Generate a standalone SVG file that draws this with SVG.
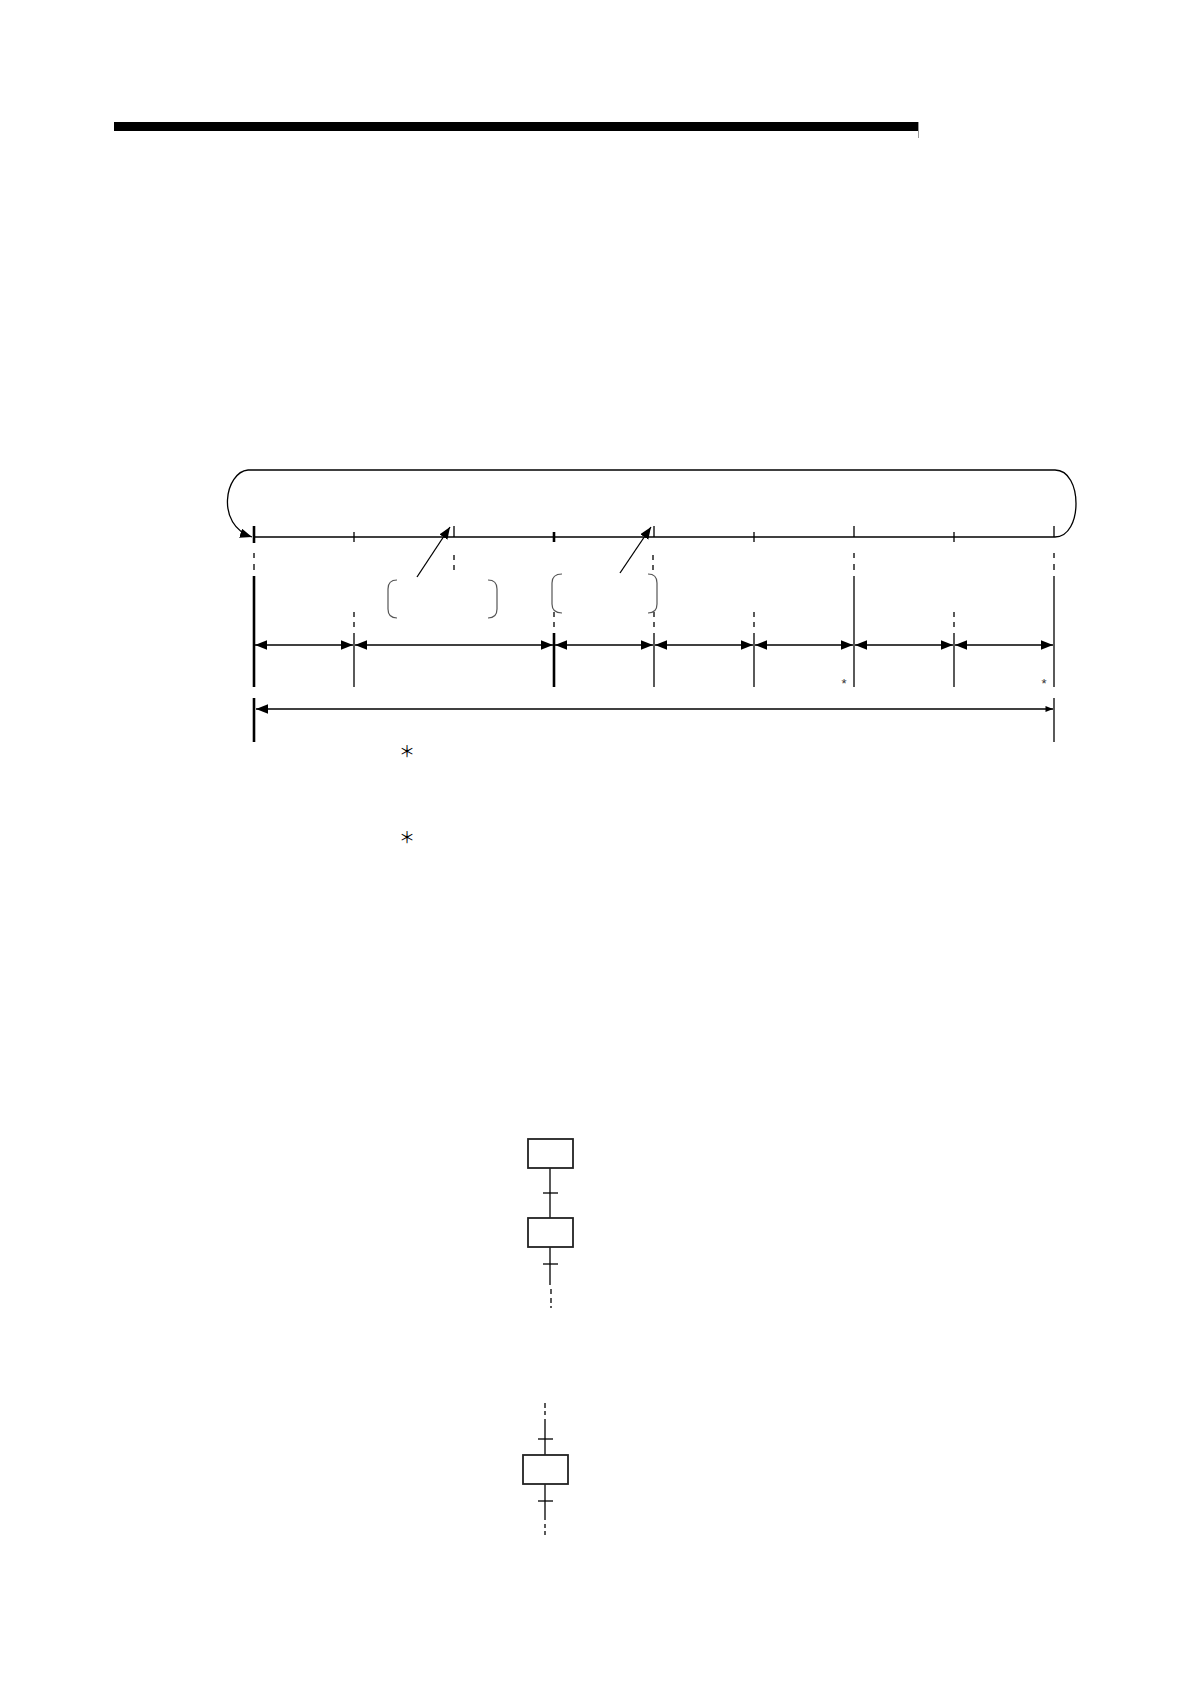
<svg xmlns="http://www.w3.org/2000/svg" width="1190" height="1684" viewBox="0 0 1190 1684">
<style>
.ln{stroke:#000;stroke-width:1.3;fill:none}
.th{stroke:#000;stroke-width:2.6;fill:none}
.br{stroke:#555;stroke-width:1.2;fill:none}
.bx{stroke:#222;stroke-width:1.8;fill:#fff}
.ast{font-family:"Noto Sans CJK JP","DejaVu Sans",sans-serif;fill:#000;text-anchor:middle}
.asts{font-family:"Liberation Sans",sans-serif;fill:#333;text-anchor:middle}
</style>
<defs>
<marker id="ah" viewBox="0 0 10 8" refX="10" refY="4" markerWidth="12" markerHeight="10" markerUnits="userSpaceOnUse" orient="auto-start-reverse">
<path d="M0,0 L10,4 L0,8 z" fill="#000"/>
</marker>
<marker id="ahs" viewBox="0 0 10 8" refX="10" refY="4" markerWidth="9" markerHeight="6" markerUnits="userSpaceOnUse" orient="auto-start-reverse">
<path d="M0,0 L10,4 L0,8 z" fill="#000"/>
</marker>
</defs>
<rect id="header-bar" x="114" y="122" width="804" height="9" fill="#000"/>
<line x1="918.5" y1="122" x2="918.5" y2="138" stroke="#999" stroke-width="1"/>

<g id="cycle">
<path class="ln" d="M248,470 L1055,470"/>
<path class="ln" d="M1055,470 C1083,470 1083,537 1055,537"/>
<path class="ln" d="M248,470 C225,472 215,525 252,537" marker-end="url(#ah)"/>
<line class="ln" x1="254" y1="537" x2="1055" y2="537"/>
</g>

<g id="ticks">
<line class="th" x1="254" y1="526" x2="254" y2="543"/>
<line class="ln" x1="354" y1="532" x2="354" y2="542"/>
<line class="ln" x1="454" y1="526" x2="454" y2="537"/>
<line class="th" x1="554" y1="532" x2="554" y2="542"/>
<line class="ln" x1="654" y1="526" x2="654" y2="537"/>
<line class="ln" x1="754" y1="532" x2="754" y2="542"/>
<line class="ln" x1="854" y1="526" x2="854" y2="537"/>
<line class="ln" x1="954" y1="532" x2="954" y2="542"/>
<line class="ln" x1="1054" y1="526" x2="1054" y2="537"/>
</g>

<g id="guides">
<line class="ln" x1="254" y1="553" x2="254" y2="558"/>
<line class="ln" x1="254" y1="564" x2="254" y2="570"/>
<line class="th" x1="254" y1="576" x2="254" y2="687"/>
<line class="th" x1="254" y1="698" x2="254" y2="742"/>
<line class="ln" x1="354" y1="612" x2="354" y2="617"/>
<line class="ln" x1="354" y1="622" x2="354" y2="627"/>
<line class="ln" x1="354" y1="633" x2="354" y2="687"/>
<line class="ln" x1="454" y1="555" x2="454" y2="560"/>
<line class="ln" x1="454" y1="565" x2="454" y2="570"/>
<line class="ln" x1="554" y1="612" x2="554" y2="617"/>
<line class="ln" x1="554" y1="622" x2="554" y2="627"/>
<line class="th" x1="554" y1="633" x2="554" y2="687"/>
<line class="ln" x1="653" y1="555" x2="653" y2="560"/>
<line class="ln" x1="653" y1="565" x2="653" y2="570"/>
<line class="ln" x1="654" y1="612" x2="654" y2="617"/>
<line class="ln" x1="654" y1="622" x2="654" y2="627"/>
<line class="ln" x1="654" y1="633" x2="654" y2="687"/>
<line class="ln" x1="754" y1="612" x2="754" y2="617"/>
<line class="ln" x1="754" y1="622" x2="754" y2="627"/>
<line class="ln" x1="754" y1="633" x2="754" y2="687"/>
<line class="ln" x1="854" y1="553" x2="854" y2="558"/>
<line class="ln" x1="854" y1="564" x2="854" y2="570"/>
<line class="ln" x1="854" y1="576" x2="854" y2="687"/>
<line class="ln" x1="954" y1="612" x2="954" y2="617"/>
<line class="ln" x1="954" y1="622" x2="954" y2="627"/>
<line class="ln" x1="954" y1="633" x2="954" y2="687"/>
<line class="ln" x1="1054" y1="553" x2="1054" y2="558"/>
<line class="ln" x1="1054" y1="564" x2="1054" y2="570"/>
<line class="ln" x1="1054" y1="576" x2="1054" y2="687"/>
<line class="ln" x1="1054" y1="698" x2="1054" y2="742"/>
</g>

<g id="brackets">
<path class="br" d="M397,580 Q388,580 388,589 L388,609 Q388,618 397,618"/>
<path class="br" d="M488,580 Q497,580 497,589 L497,609 Q497,618 488,618"/>
<path class="br" d="M562,574 Q552,574 552,583 L552,604 Q552,613 562,613"/>
<path class="br" d="M648,574 Q657,574 657,583 L657,604 Q657,613 648,613"/>
</g>

<g id="connectors">
<line class="ln" x1="417" y1="577" x2="450" y2="527" marker-end="url(#ah)"/>
<line class="ln" x1="620" y1="573" x2="651" y2="527" marker-end="url(#ah)"/>
<line class="ln" x1="255" y1="645" x2="353" y2="645" marker-start="url(#ah)" marker-end="url(#ah)"/>
<line class="ln" x1="355" y1="645" x2="553" y2="645" marker-start="url(#ah)" marker-end="url(#ah)"/>
<line class="ln" x1="555" y1="645" x2="653" y2="645" marker-start="url(#ah)" marker-end="url(#ah)"/>
<line class="ln" x1="655" y1="645" x2="753" y2="645" marker-start="url(#ah)" marker-end="url(#ah)"/>
<line class="ln" x1="755" y1="645" x2="853" y2="645" marker-start="url(#ah)" marker-end="url(#ah)"/>
<line class="ln" x1="855" y1="645" x2="953" y2="645" marker-start="url(#ah)" marker-end="url(#ah)"/>
<line class="ln" x1="955" y1="645" x2="1053" y2="645" marker-start="url(#ah)" marker-end="url(#ah)"/>
<line class="ln" x1="256" y1="709" x2="1053" y2="709" marker-start="url(#ah)" marker-end="url(#ahs)"/>
</g>

<g id="asterisks">
<text class="asts" x="844" y="688" font-size="13">*</text>
<text class="asts" x="1044" y="688" font-size="13">*</text>
<text class="ast" x="407" y="757" font-size="16">＊</text>
<text class="ast" x="407" y="843" font-size="16">＊</text>
</g>

<g id="sfc-upper">
<line class="ln" x1="550" y1="1168" x2="550" y2="1218" stroke-width="1.6"/>
<line class="ln" x1="543" y1="1193" x2="558" y2="1193"/>
<line class="ln" x1="550" y1="1247" x2="550" y2="1285" stroke-width="1.6"/>
<line class="ln" x1="543" y1="1264" x2="558" y2="1264"/>
<line class="ln" x1="551" y1="1289" x2="551" y2="1294"/>
<line class="ln" x1="551" y1="1298" x2="551" y2="1303"/>
<line class="ln" x1="551" y1="1306" x2="551" y2="1308"/>
<g id="step-1"><rect class="bx" x="528" y="1139" width="45" height="29"/></g>
<g id="step-2"><rect class="bx" x="528" y="1218" width="45" height="29"/></g>
</g>

<g id="sfc-lower">
<line class="ln" x1="545" y1="1403" x2="545" y2="1408"/>
<line class="ln" x1="545" y1="1411" x2="545" y2="1415"/>
<line class="ln" x1="545" y1="1419" x2="545" y2="1455" stroke-width="1.6"/>
<line class="ln" x1="538" y1="1439" x2="553" y2="1439"/>
<line class="ln" x1="545" y1="1484" x2="545" y2="1520" stroke-width="1.6"/>
<line class="ln" x1="538" y1="1501" x2="553" y2="1501"/>
<line class="ln" x1="545" y1="1524" x2="545" y2="1528"/>
<line class="ln" x1="545" y1="1531" x2="545" y2="1535"/>
<g id="step-3"><rect class="bx" x="523" y="1455" width="45" height="29"/></g>
</g>
</svg>
